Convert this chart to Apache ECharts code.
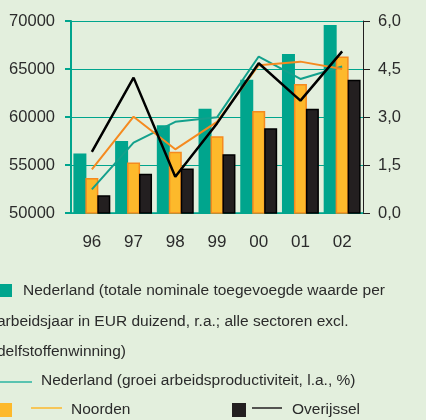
<!DOCTYPE html>
<html>
<head>
<meta charset="utf-8">
<script src="https://cdn.jsdelivr.net/npm/echarts@6/dist/echarts.min.js"></script>
<style>
	html, body { margin: 0; padding: 0; background: #e3efdd; }
	#chart { width: 426px; height: 420px; }
</style>
</head>
<body>
<div id="chart"></div>
<script>
// categories (years)
const years = ["96", "97", "98", "99", "00", "01", "02"];

// value added per labour year, EUR (bars)
const nederlandValue = [56200, 57500, 59130, 60870, 63870, 66550, 69580];
const noordenValue = [53650, 55270, 56370, 58000, 60630, 63450, 66300];
const overijsselValue = [51850, 54100, 54640, 56130, 58820, 60870, 63870];

// growth of labour productivity, % (lines)
const nederlandGrowth = [0.74, 2.2, 2.85, 2.99, 4.89, 4.19, 4.58];
const noordenGrowth = [1.36, 3.01, 1.99, 2.85, 4.62, 4.73, 4.5];
const overijsselGrowth = [1.91, 4.23, 1.13, 2.8, 4.68, 3.51, 5.05];

// legend texts
const legendTexts = [
	"Nederland (totale nominale toegevoegde waarde per",
	"arbeidsjaar in EUR duizend, r.a.; alle sectoren excl.",
	"delfstoffenwinning)",
	"Nederland (groei arbeidsproductiviteit, l.a., %)",
	"Noorden",
	"Overijssel"
];

const teal = "#00a58d";
const orange = "#f58a1f";
const yellow = "#fdb92b";
const dark = "#231f20";
const font = "'Liberation Sans', Arial, sans-serif";
const textColor = "#2b2b2b";

const chartDom = document.getElementById("chart");
const myChart = echarts.init(chartDom);
let option;

function legendText(x, y, text) {
	return {
		type: "text", x: x, y: y,
		style: {text: text, fill: textColor, font: "15.5px " + font, verticalAlign: "middle"}
	};
}

option = {
	backgroundColor: "#e3efdd",
	animation: false,
	grid: {left: 71, right: 63, top: 21, height: 192, outerBoundsMode: "none", containLabel: false},
	xAxis: {
		type: "category",
		data: years,
		axisLine: {lineStyle: {color: teal, width: 1.5}},
		axisTick: {length: 5, lineStyle: {color: teal, width: 1}},
		axisLabel: {margin: 21, color: textColor, fontSize: 17, fontFamily: font}
	},
	yAxis: [
		{
			type: "value",
			min: 50000,
			max: 70000,
			interval: 5000,
			axisLine: {show: true, lineStyle: {color: teal, width: 2}},
			axisTick: {show: true, length: 6, lineStyle: {color: teal, width: 2}},
			axisLabel: {margin: 16, color: textColor, fontSize: 16.5, fontFamily: font, formatter: v => String(v)},
			splitLine: {lineStyle: {color: teal, width: 1}}
		},
		{
			type: "value",
			min: 0,
			max: 6,
			interval: 1.5,
			axisLine: {show: true, lineStyle: {color: dark, width: 1}},
			axisTick: {show: true, length: 7, lineStyle: {color: dark, width: 1}},
			axisLabel: {
				margin: 15, color: textColor, fontSize: 16.5, fontFamily: font,
				formatter: v => v.toFixed(1).replace(".", ",")
			},
			splitLine: {show: false}
		}
	],
	series: [
		{
			name: "Nederland", type: "bar", data: nederlandValue,
			barWidth: 13, barGap: "-8%",
			itemStyle: {color: teal}
		},
		{
			name: "Noorden", type: "bar", data: noordenValue,
			barWidth: 13, barGap: "-8%",
			itemStyle: {color: yellow, borderColor: orange, borderWidth: 1.5}
		},
		{
			name: "Overijssel", type: "bar", data: overijsselValue,
			barWidth: 13, barGap: "-8%",
			itemStyle: {color: dark, borderColor: "#000", borderWidth: 1.5}
		},
		{
			name: "Nederland groei", type: "line", yAxisIndex: 1, data: nederlandGrowth,
			symbol: "none", lineStyle: {color: "#13a08c", width: 2}, z: 3
		},
		{
			name: "Noorden groei", type: "line", yAxisIndex: 1, data: noordenGrowth,
			symbol: "none", lineStyle: {color: orange, width: 2}, z: 3
		},
		{
			name: "Overijssel groei", type: "line", yAxisIndex: 1, data: overijsselGrowth,
			symbol: "none", lineStyle: {color: "#000", width: 2.5}, z: 4
		}
	],
	graphic: [
		{type: "rect", shape: {x: 0, y: 284, width: 12, height: 13}, style: {fill: teal}},
		legendText(23, 291, legendTexts[0]),
		legendText(-3, 322, legendTexts[1]),
		legendText(-3, 352, legendTexts[2]),
		{type: "line", shape: {x1: 0, y1: 382, x2: 32, y2: 382}, style: {stroke: "#2bb5a0", lineWidth: 1.5}},
		legendText(41, 381, legendTexts[3]),
		{type: "rect", shape: {x: 0, y: 403, width: 12, height: 14}, style: {fill: yellow}},
		{type: "line", shape: {x1: 31, y1: 408, x2: 62, y2: 408}, style: {stroke: yellow, lineWidth: 1.5}},
		legendText(71, 410, legendTexts[4]),
		{type: "rect", shape: {x: 232, y: 403, width: 14, height: 14}, style: {fill: dark}},
		{type: "line", shape: {x1: 252, y1: 408, x2: 282, y2: 408}, style: {stroke: dark, lineWidth: 1.5}},
		legendText(292, 410, legendTexts[5])
	]
};

option && myChart.setOption(option);
</script>
</body>
</html>
